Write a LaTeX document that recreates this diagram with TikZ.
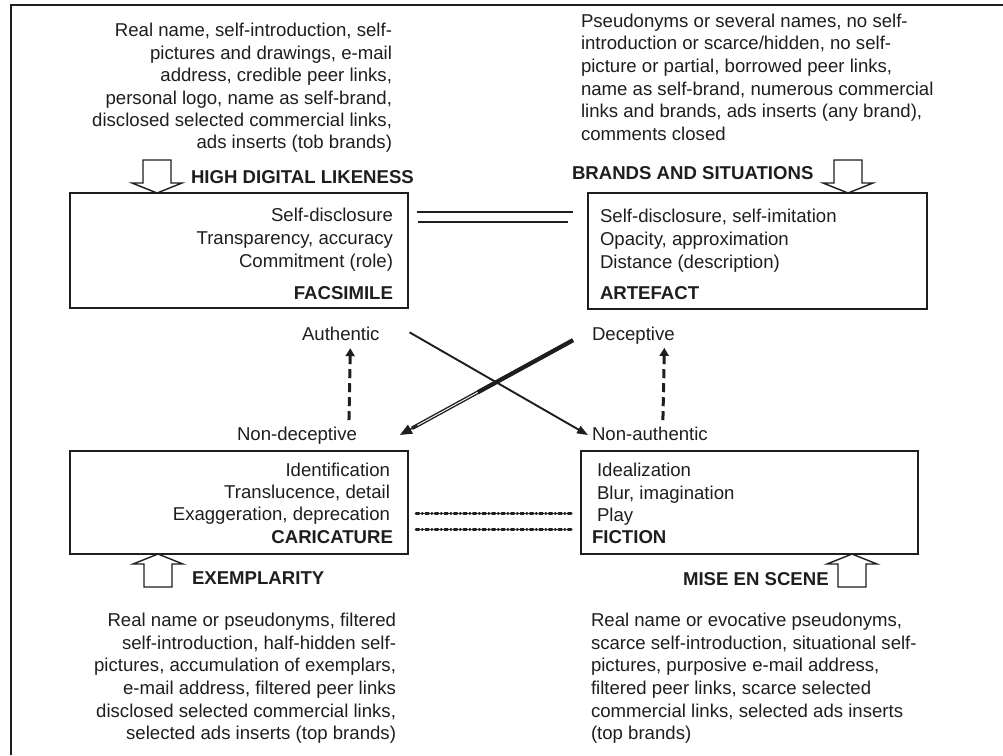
\documentclass[tikz,border=0pt]{standalone}
\usepackage{fontspec}
\setmainfont{Liberation Sans}
\usetikzlibrary{arrows.meta,calc}
\definecolor{ink}{HTML}{1E1E1E}
\begin{document}
\begin{tikzpicture}[x=1pt,y=-1pt,
  every node/.style={inner sep=0pt, outer sep=0pt, text=ink},
  txt/.style={font=\fontsize{18.6}{#1}\selectfont},
  txt/.default=22.4,
  head/.style={font=\fontsize{18.6}{22.4}\selectfont\bfseries},
  lbl/.style={font=\fontsize{18.6}{22.4}\selectfont, anchor=base west},
  quad/.style={draw=ink, line width=1.6pt, rectangle},
  link/.style={draw=ink, line width=1.6pt},
  rise/.style={draw=ink, line width=3pt, dash pattern=on 9pt off 5pt,
    -{Triangle[length=8pt,width=9pt]}},
  dotline/.style={draw=ink, line width=3pt, line cap=round,
    dash pattern=on 3pt off 3pt on 0.5pt off 3pt},
  hollowup/.pic={\draw[ink, line width=1.4pt, fill=white, line join=miter]
    (0,0) -- (25,10) -- (14,10) -- (14,33) -- (-14,33) -- (-14,10) -- (-25,10) -- cycle;}
]
\useasboundingbox (0,0) rectangle (1003,755);

% outer frame
\draw[ink, line width=1.4pt] (11,755) -- (11,5) -- (1003,5);

% four boxes
\node[quad, minimum width=338pt, minimum height=115pt] (fac) at (239,250.5) {};
\node[quad, minimum width=339pt, minimum height=116pt] (art) at (757.5,251) {};
\node[quad, minimum width=338pt, minimum height=103pt] (car) at (239,502.5) {};
\node[quad, minimum width=337pt, minimum height=103pt] (fic) at (749.5,502.5) {};

% box contents
\node[txt=22.8, align=right, anchor=north east] (facT) at (393,205.7)
  {\strut Self-disclosure\\Transparency, accuracy\\Commitment (role)};
\node[head, anchor=base east] (facH) at (393,299.3) {FACSIMILE};
\node[txt=22.8, align=left, anchor=north west] (artT) at (600,206.7)
  {\strut Self-disclosure, self-imitation\\Opacity, approximation\\Distance (description)};
\node[head, anchor=base west] (artH) at (600,299.3) {ARTEFACT};
\node[txt=22.35, align=right, anchor=north east] (carT) at (390,460.4)
  {\strut Identification\\Translucence, detail\\Exaggeration, deprecation};
\node[head, anchor=base east] (carH) at (393,543.3) {CARICATURE};
\node[txt=22.5, align=left, anchor=north west] (ficT) at (597,461)
  {\strut Idealization\\Blur, imagination\\Play};
\node[head, anchor=base west] (ficH) at (592,543.3) {FICTION};

% descriptive text blocks
\node[txt=22.35, align=right, anchor=north east] (tl) at (392,21.35)
  {\strut Real name, self-introduction, self-\\pictures and drawings, e-mail\\
   address, credible peer links,\\personal logo, name as self-brand,\\
   disclosed selected commercial links,\\ads inserts (tob brands)};
\node[txt=22.6, align=left, anchor=north west] (tr) at (581,11.5)
  {\strut Pseudonyms or several names, no self-\\introduction or scarce/hidden, no self-\\
   picture or partial, borrowed peer links,\\name as self-brand, numerous commercial\\
   links and brands, ads inserts (any brand),\\comments closed};
\node[txt=22.6, align=right, anchor=north east] (bl) at (396,610.9)
  {\strut Real name or pseudonyms, filtered\\self-introduction, half-hidden self-\\
   pictures, accumulation of exemplars,\\e-mail address, filtered peer links\\
   disclosed selected commercial links,\\selected ads inserts (top brands)};
\node[txt=22.6, align=left, anchor=north west] (br) at (591,610.9)
  {\strut Real name or evocative pseudonyms,\\scarce self-introduction, situational self-\\
   pictures, purposive e-mail address,\\filtered peer links, scarce selected\\
   commercial links, selected ads inserts\\(top brands)};

% headings beside the hollow arrows
\node[head, anchor=base west] (hdl) at (191,183.3) {HIGH DIGITAL LIKENESS};
\node[head, anchor=base west] (bas) at (572,179) {BRANDS AND SITUATIONS};
\node[head, anchor=base west] (exe) at (192,584) {EXEMPLARITY};
\node[head, anchor=base west] (mes) at (683,585) {MISE EN SCENE};

% hollow arrows
\pic[rotate=180] at ([xshift=87pt]fac.north west) {hollowup};
\pic[rotate=180] at ([xshift=260pt]art.north west) {hollowup};
\pic at ([xshift=88pt]car.south west) {hollowup};
\pic at ([xshift=271pt]fic.south west) {hollowup};

% axis labels
\node[lbl] (auth) at (302,340) {Authentic};
\node[lbl] (dec) at (592,340) {Deceptive};
\node[lbl] (ndec) at (237,440.7) {Non-deceptive};
\node[lbl] (nauth) at (592,440.7) {Non-authentic};

% double link between the upper boxes
\draw[link] ([shift={(9pt,-19pt)}]fac.north east) -- ([shift={(-15pt,-19pt)}]art.north west);
\draw[link] ([shift={(10pt,-29pt)}]fac.north east) -- ([shift={(-20pt,-29pt)}]art.north west);

% dash-dot link between the lower boxes
\draw[dotline] ([shift={(8pt,-10.5pt)}]car.east) -- ([shift={(-9pt,-10.5pt)}]fic.west);
\draw[dotline] ([shift={(8pt,-26.5pt)}]car.east) -- ([shift={(-9pt,-26.5pt)}]fic.west);

% dashed rising arrows
\draw[rise] ([shift={(52pt,7pt)}]ndec.north) -- ([shift={(9.5pt,-8pt)}]auth.south);
\draw[rise] ([shift={(13pt,7pt)}]nauth.north) -- ([shift={(31pt,-4pt)}]dec.south);

% crossing arrows
\draw[draw=ink, line width=1.9pt, -{Triangle[length=11pt,width=8pt]}]
  ([shift={(30pt,1pt)}]auth.east) -- ([shift={(-4pt,-1pt)}]nauth.west);
\coordinate (dS) at ([shift={(-19pt,-5pt)}]dec.west);
\coordinate (dE) at ([shift={(43pt,1pt)}]ndec.east);
\draw[draw=ink, line width=1.4pt, double=white, double distance=0.9pt]
  (dS) -- ($(dS)!0.93!(dE)$);
\draw[draw=ink, line width=4.2pt] (dS) -- ($(dS)!0.55!(dE)$);
\draw[draw=ink, line width=1.5pt, -{Triangle[length=12pt,width=10pt]}]
  ($(dS)!0.9!(dE)$) -- (dE);
\end{tikzpicture}
\end{document}
